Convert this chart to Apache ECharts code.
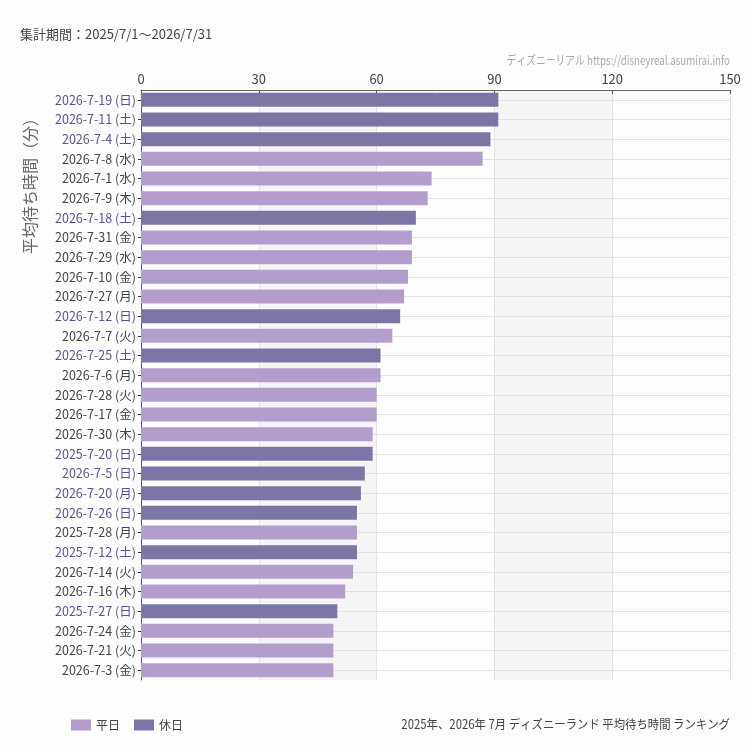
<!DOCTYPE html>
<html>
<head>
<meta charset="utf-8">
<script src="https://cdn.jsdelivr.net/npm/echarts@6/dist/echarts.min.js"></script>
<style>
html,body{margin:0;padding:0;background:#fcfdfc;}
#c{width:750px;height:750px;}
</style>
</head>
<body>
<div id="c"></div>
<script>
const categories = [
  '2026-7-19 (日)','2026-7-11 (土)','2026-7-4 (土)','2026-7-8 (水)','2026-7-1 (水)',
  '2026-7-9 (木)','2026-7-18 (土)','2026-7-31 (金)','2026-7-29 (水)','2026-7-10 (金)',
  '2026-7-27 (月)','2026-7-12 (日)','2026-7-7 (火)','2026-7-25 (土)','2026-7-6 (月)',
  '2026-7-28 (火)','2026-7-17 (金)','2026-7-30 (木)','2025-7-20 (日)','2026-7-5 (日)',
  '2026-7-20 (月)','2026-7-26 (日)','2025-7-28 (月)','2025-7-12 (土)','2026-7-14 (火)',
  '2026-7-16 (木)','2025-7-27 (日)','2026-7-24 (金)','2026-7-21 (火)','2026-7-3 (金)'
];
const values = [
  91, 91, 89, 87, 74,
  73, 70, 69, 69, 68,
  67, 66, 64, 61, 61,
  60, 60, 59, 59, 57,
  56, 55, 55, 55, 54,
  52, 50, 49, 49, 49
];
const holiday = [
  1,1,1,0,0,
  0,1,0,0,0,
  0,1,0,1,0,
  0,0,0,1,1,
  1,1,0,1,0,
  0,1,0,0,0
];
const xTicks = [0, 30, 60, 90, 120, 150];
const legendNames = ['平日', '休日'];

const weekdayData = values.map((v, i) => holiday[i] ? '-' : v);
const holidayData = values.map((v, i) => holiday[i] ? v : '-');

const chart = echarts.init(document.getElementById('c'));
chart.setOption({
  backgroundColor: '#fcfdfc',
  animation: false,
  textStyle: { fontFamily: 'Noto Sans CJK JP' },
  grid: { left: 141, right: 20, top: 90, bottom: 70, containLabel: false },
  xAxis: {
    type: 'value', position: 'top', z: 0,
    min: xTicks[0], max: xTicks[xTicks.length - 1], interval: 30,
    axisLine: { show: true, lineStyle: { color: '#666', width: 1 } },
    axisTick: { show: true, inside: true, length: 4, lineStyle: { color: '#555' } },
    axisLabel: { color: '#444', fontSize: 13, margin: 4, fontFamily: 'Noto Sans CJK JP' },
    splitLine: { show: true, lineStyle: { color: '#e4e4e4', width: 1 } },
    splitArea: { show: true, areaStyle: { color: ['rgba(252,253,252,1)', 'rgba(244,245,244,1)'] } }
  },
  yAxis: {
    type: 'category', inverse: true, data: categories, z: 1,
    axisLine: { show: true, lineStyle: { color: '#555', width: 1 } },
    axisTick: { show: true, alignWithLabel: true, length: 3, lineStyle: { color: '#333' } },
    splitLine: { show: true, alignWithLabel: true, lineStyle: { color: '#e2e2e2', width: 1 } },
    axisLabel: {
      fontSize: 12, margin: 5,
      formatter: function (val, idx) {
        return (holiday[idx] ? '{h|' : '{w|') + val + '}';
      },
      rich: {
        h: { color: '#5a5298', fontSize: 12.5, fontFamily: 'Noto Sans CJK JP' },
        w: { color: '#444', fontSize: 12.5, fontFamily: 'Noto Sans CJK JP' }
      }
    }
  },
  legend: {
    left: 66, top: 714, itemWidth: 20, itemHeight: 11, itemGap: 14,
    icon: 'rect',
    textStyle: { color: '#444', fontSize: 12 },
    data: legendNames
  },
  series: [
    { name: legendNames[0], type: 'bar', stack: 'a', data: weekdayData, barWidth: 14, z: 3,
      itemStyle: { color: '#b39dcc' } },
    { name: legendNames[1], type: 'bar', stack: 'a', data: holidayData, barWidth: 14, z: 3,
      itemStyle: { color: '#7b76a6' } }
  ],
  graphic: [
    { type: 'text', left: 20, top: 28, style: { text: '集計期間：2025/7/1～2026/7/31', fill: '#444', fontSize: 13, fontFamily: 'Noto Sans CJK JP' } },
    { type: 'text', x: 730, y: 60, scaleX: 0.78, style: { text: 'ディズニーリアル https://disneyreal.asumirai.info', fill: '#aaa', fontSize: 12.5, fontFamily: 'Noto Sans CJK JP', align: 'right', verticalAlign: 'middle' } },
    { type: 'text', x: 730, y: 724, scaleX: 0.91, style: { text: '2025年、2026年 7月 ディズニーランド 平均待ち時間 ランキング', fill: '#444', fontSize: 12.5, fontFamily: 'Noto Sans CJK JP', align: 'right', verticalAlign: 'middle' } },
    { type: 'text', x: 22, y: 254, rotation: Math.PI / 2, style: { text: '平均待ち時間（分）', fill: '#666', fontSize: 16, fontFamily: 'Noto Sans CJK JP' } }
  ]
});
</script>
</body>
</html>
